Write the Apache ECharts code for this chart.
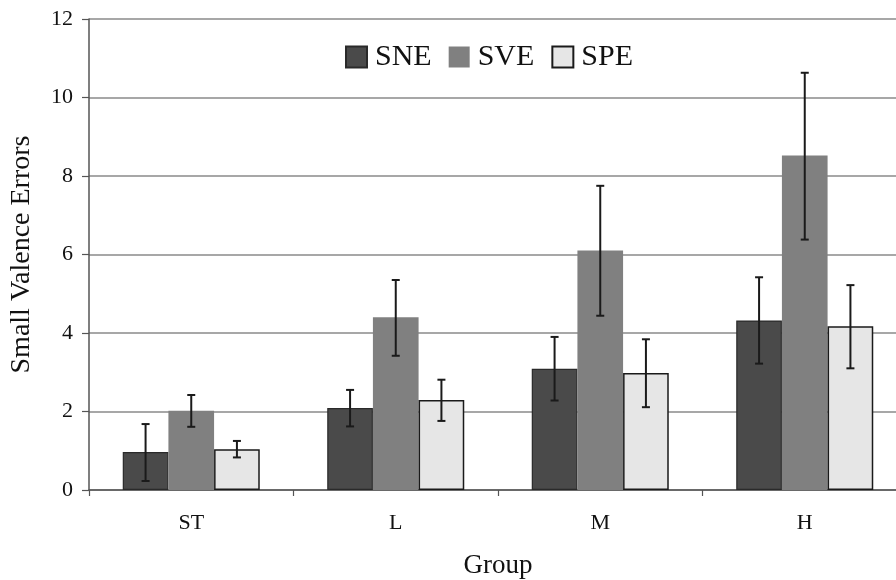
<!DOCTYPE html>
<html>
<head>
<meta charset="utf-8">
<script src="https://cdn.jsdelivr.net/npm/echarts@6/dist/echarts.min.js"></script>
<style>
html,body{margin:0;padding:0;background:#fff;}
#chart{width:896px;height:580px;}
</style>
</head>
<body>
<div id="chart"></div>
<script>
const categories = ['ST', 'L', 'M', 'H'];
const seriesNames = ['SNE', 'SVE', 'SPE'];
const sneValues = [0.97, 2.09, 3.09, 4.32];
const sveValues = [2.02, 4.40, 6.10, 8.52];
const speValues = [1.04, 2.29, 2.98, 4.17];
const sneLow = [0.23, 1.62, 2.28, 3.22];
const sneHigh = [1.68, 2.55, 3.90, 5.42];
const sveLow = [1.61, 3.42, 4.44, 6.38];
const sveHigh = [2.42, 5.35, 7.75, 10.63];
const speLow = [0.83, 1.76, 2.11, 3.10];
const speHigh = [1.25, 2.81, 3.84, 5.22];
const yTicks = [0, 2, 4, 6, 8, 10, 12];

const FONT = "'Liberation Serif', 'Times New Roman', serif";
const CAT_GAP = 0.33;

function errData(lows, highs) {
  return categories.map((c, i) => [i, lows[i], highs[i]]);
}

function errSeries(name, lows, highs, slot) {
  return {
    type: 'custom',
    name: name + ' err',
    z: 10,
    silent: true,
    renderItem: function (params, api) {
      const idx = api.value(0);
      const lo = api.coord([idx, api.value(1)]);
      const hi = api.coord([idx, api.value(2)]);
      const bandW = api.size([1, 0])[0];
      const barW = bandW * (1 - CAT_GAP) / 3;
      const x = lo[0] + (slot - 1) * barW;
      const cap = 4;
      const st = { stroke: '#1a1a1a', lineWidth: 2 };
      return {
        type: 'group',
        children: [
          { type: 'line', shape: { x1: x, y1: lo[1], x2: x, y2: hi[1] }, style: st },
          { type: 'line', shape: { x1: x - cap, y1: lo[1], x2: x + cap, y2: lo[1] }, style: st },
          { type: 'line', shape: { x1: x - cap, y1: hi[1], x2: x + cap, y2: hi[1] }, style: st }
        ]
      };
    },
    data: errData(lows, highs)
  };
}

const chart = echarts.init(document.getElementById('chart'), null, { renderer: 'canvas' });
chart.setOption({
  animation: false,
  backgroundColor: '#ffffff',
  textStyle: { fontFamily: FONT },
  legend: {
    data: seriesNames,
    icon: 'rect',
    left: 340,
    top: 37,
    itemWidth: 21,
    itemHeight: 21,
    itemGap: 17,
    textStyle: { fontFamily: FONT, fontSize: 30, color: '#111', padding: [0, 0, 0, 3] }
  },
  grid: { left: 89, top: 19, width: 818, height: 471, containLabel: false, outerBoundsMode: 'none' },
  xAxis: {
    type: 'category',
    data: categories,
    name: 'Group',
    nameLocation: 'middle',
    nameGap: 62,
    nameTextStyle: { fontFamily: FONT, fontSize: 27, color: '#111' },
    axisLine: { lineStyle: { color: '#555', width: 1.5 } },
    axisTick: { show: true, length: 6, lineStyle: { color: '#555', width: 1.2 } },
    axisLabel: { fontFamily: FONT, fontSize: 22, color: '#111', margin: 22 }
  },
  yAxis: {
    type: 'value',
    min: 0,
    max: 12,
    interval: 2,
    name: 'Small Valence Errors',
    nameLocation: 'middle',
    nameGap: 53,
    nameTextStyle: { fontFamily: FONT, fontSize: 28, color: '#111' },
    axisLine: { show: true, lineStyle: { color: '#555', width: 1.5 } },
    axisTick: { show: true, length: 7, lineStyle: { color: '#555', width: 1.2 } },
    axisLabel: {
      fontFamily: FONT, fontSize: 22, color: '#111', margin: 16,
      formatter: function (v) { return yTicks.indexOf(v) >= 0 ? String(v) : ''; }
    },
    splitLine: { lineStyle: { color: '#8a8a8a', width: 1.5 } }
  },
  series: [
    {
      name: 'SNE', type: 'bar', data: sneValues, barGap: '0%', barCategoryGap: '33%',
      itemStyle: { color: '#4a4a4a', borderColor: '#2a2a2a', borderWidth: 1.2 }
    },
    {
      name: 'SVE', type: 'bar', data: sveValues, barGap: '0%', barCategoryGap: '33%',
      itemStyle: { color: '#808080' }
    },
    {
      name: 'SPE', type: 'bar', data: speValues, barGap: '0%', barCategoryGap: '33%',
      itemStyle: { color: '#e6e6e6', borderColor: '#1a1a1a', borderWidth: 1.5 }
    },
    errSeries('SNE', sneLow, sneHigh, 0),
    errSeries('SVE', sveLow, sveHigh, 1),
    errSeries('SPE', speLow, speHigh, 2)
  ]
});
</script>
</body>
</html>
